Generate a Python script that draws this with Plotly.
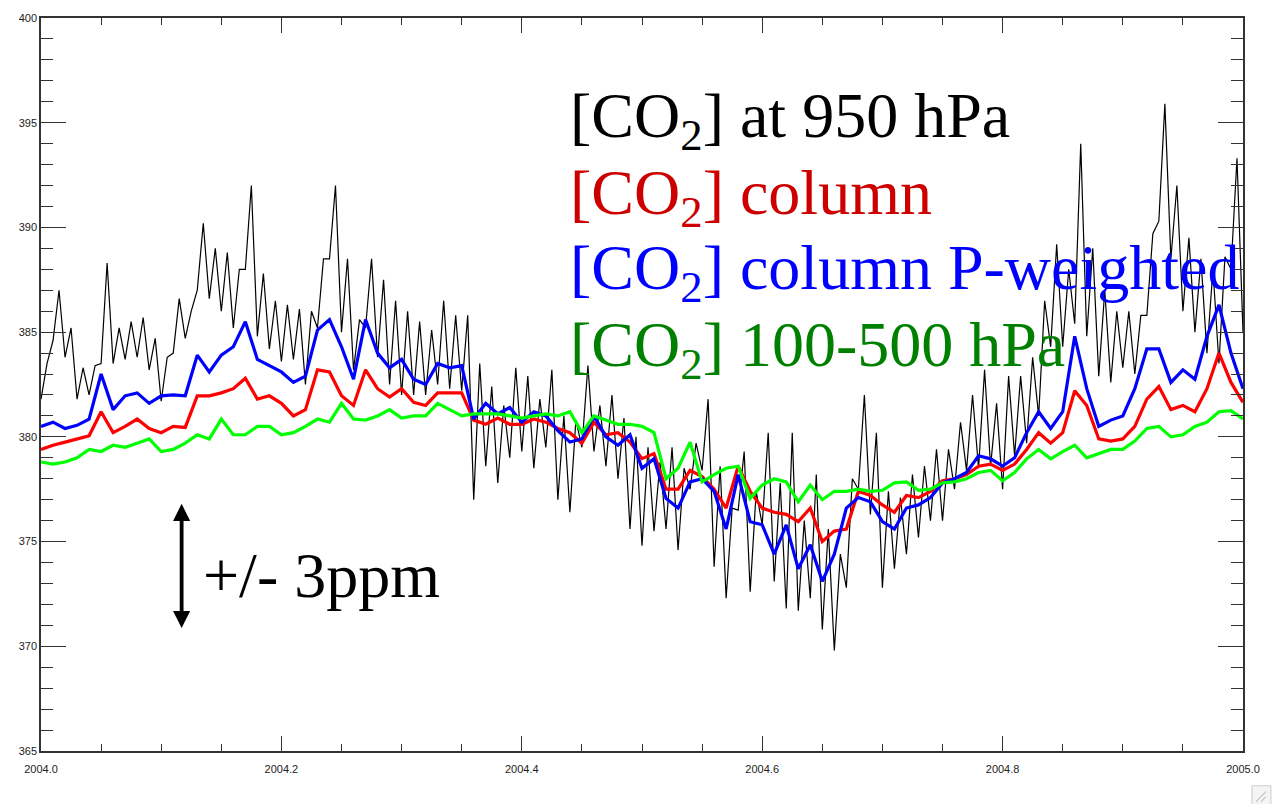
import numpy as np
import plotly.graph_objects as go

# time grid (fraction of year 2004), 0.01-year steps
years = np.round(2004 + np.arange(101) * 0.01, 3)

green_100_500 = [378.8, 378.7, 378.8, 379.0, 379.4, 379.3, 379.6, 379.5, 379.7, 379.9,
                 379.3, 379.4, 379.7, 380.1, 379.9, 380.85, 380.1, 380.1, 380.5, 380.5,
                 380.1, 380.2, 380.5, 380.85, 380.7, 381.6, 380.85, 380.8, 381.0, 381.3,
                 380.9, 381.0, 381.0, 381.6, 381.3, 381.0, 381.1, 381.1, 381.1, 381.0,
                 380.9, 381.0, 381.1, 381.0, 381.2, 380.2, 381.0, 380.8, 380.6, 380.6,
                 380.5, 380.2, 378.0, 378.5, 379.75, 377.85, 378.2, 378.5, 378.6, 377.06,
                 377.7, 378.0, 377.85, 376.9, 377.7, 377.0, 377.4, 377.4, 377.5, 377.4,
                 377.45, 377.8, 377.85, 377.45, 377.5, 377.8, 377.85, 378.0, 378.3, 378.4,
                 377.9, 378.3, 378.95, 379.4, 378.95, 379.3, 379.6, 379.0, 379.2, 379.4,
                 379.4, 379.8, 380.4, 380.5, 380.0, 380.1, 380.5, 380.7, 381.2, 381.25,
                 380.85]

red_column = [379.4, 379.6, 379.75, 379.9, 380.05, 381.2, 380.2, 380.5, 380.85, 380.4,
              380.2, 380.5, 380.45, 381.96, 381.96, 382.1, 382.3, 382.8, 381.8, 381.96,
              381.6, 381.0, 381.3, 383.2, 383.1, 381.96, 381.5, 383.2, 382.3, 381.9,
              382.3, 381.65, 381.5, 382.1, 382.1, 382.1, 380.8, 380.6, 380.9, 380.6,
              380.6, 380.85, 380.7, 380.4, 380.2, 379.7, 380.7, 380.1, 380.2, 379.75,
              378.96, 379.2, 377.5, 377.5, 378.4, 378.1, 377.5, 376.6, 378.6, 377.4,
              376.6, 376.4, 376.3, 375.95, 376.6, 375.0, 375.5, 375.6, 377.4, 377.2,
              376.75, 376.4, 377.2, 377.1, 377.4, 377.9, 378.0, 378.2, 378.6, 378.7,
              378.4, 378.7, 379.4, 380.2, 379.7, 380.2, 382.2, 381.5, 379.9, 379.8,
              379.9, 380.5, 381.8, 382.4, 381.3, 381.5, 381.2, 382.3, 384.0, 382.6,
              381.65]

blue_p_weighted = [380.5, 380.7, 380.4, 380.55, 380.85, 383.0, 381.3, 381.96, 382.1, 381.6,
                   381.96, 382.0, 381.96, 383.9, 383.1, 383.9, 384.3, 385.5, 383.7, 383.4,
                   383.1, 382.6, 382.9, 385.1, 385.6, 384.3, 382.75, 385.6, 384.0, 383.3,
                   383.7, 382.75, 382.5, 383.5, 383.3, 383.4, 380.85, 381.6, 381.1, 381.4,
                   380.7, 381.2, 381.0, 380.3, 379.75, 379.9, 381.0, 380.0, 379.6, 380.1,
                   378.5, 378.96, 377.06, 376.6, 377.85, 378.0, 377.4, 375.6, 378.2, 375.95,
                   375.8, 374.4, 375.8, 373.7, 374.85, 373.1, 374.4, 376.6, 377.1, 376.9,
                   375.95, 375.6, 376.6, 376.75, 377.1, 377.8, 378.0, 378.3, 379.1, 378.95,
                   378.6, 379.0, 380.2, 381.2, 380.4, 381.2, 384.8, 382.3, 380.5, 380.8,
                   381.0, 382.3, 384.2, 384.2, 382.6, 383.2, 382.75, 384.8, 386.3, 384.0,
                   382.3]

# 950 hPa series: upper and lower excursions read per 0.01-year step
black_hi = [383.5, 387.0, 385.2, 383.3, 383.4, 388.3, 385.2, 385.5, 385.7, 384.7,
            383.8, 386.6, 386.0, 390.2, 389.0, 388.8, 388.0, 392.0, 387.8, 386.5,
            386.3, 386.1, 386.0, 388.5, 392.0, 388.5, 385.6, 388.5, 387.5, 386.5,
            386.0, 385.5, 385.1, 386.5, 385.8, 385.8, 383.5, 382.4, 381.5, 383.3,
            382.9, 381.8, 383.2, 381.0, 380.8, 383.4, 381.5, 382.0, 380.9, 380.0,
            379.5, 378.8, 379.5, 378.5, 379.7, 381.8, 378.6, 376.6, 379.3, 377.4,
            380.2, 377.8, 380.2, 376.0, 378.2, 375.6, 374.4, 378.0, 382.0, 380.2,
            377.4, 377.1, 378.2, 378.6, 379.4, 379.4, 380.7, 382.0, 383.2, 381.6,
            382.9, 382.9, 383.8, 386.5, 389.2, 388.0, 394.0, 389.0, 387.0, 386.0,
            386.0, 385.8, 389.7, 395.9, 392.0, 389.5, 388.5, 388.0, 388.6, 393.3]
black_lo = [381.8, 384.6, 383.8, 381.8, 382.0, 383.5, 383.5, 383.7, 383.8, 383.2,
            381.7, 384.0, 384.7, 387.0, 386.6, 386.0, 385.2, 388.0, 384.8, 384.2,
            383.6, 383.7, 382.5, 385.2, 388.5, 385.0, 383.2, 385.2, 383.8, 382.5,
            382.0, 382.0, 382.0, 382.5, 382.3, 382.2, 377.0, 378.6, 377.8, 379.0,
            379.3, 378.5, 379.5, 377.0, 376.4, 379.5, 379.3, 378.6, 378.0, 375.6,
            374.8, 375.5, 375.6, 374.6, 377.5, 378.4, 373.8, 372.3, 376.5, 372.6,
            375.8, 373.1, 371.8, 371.7, 372.3, 370.8, 369.8, 372.8, 377.5, 376.3,
            372.8, 373.7, 374.4, 375.2, 376.0, 376.0, 377.5, 378.4, 378.5, 378.6,
            377.5, 379.1, 379.7, 381.0, 384.3, 384.3, 385.4, 384.8, 382.9, 382.6,
            383.3, 383.0, 385.8, 390.3, 388.5, 386.0, 385.0, 384.0, 383.5, 388.0,
            385.0]

labels = ["[CO<sub>2</sub>] at 950 hPa", "[CO<sub>2</sub>] column",
          "[CO<sub>2</sub>] column P-weighted", "[CO<sub>2</sub>] 100-500 hPa"]
label_colors = ["#000000", "#CC0000", "#0000FF", "#008000"]

# build the 950 hPa zigzag from the read envelopes
bt, bv = [], []
for k in range(len(black_lo)):
    bt.append(years[k]); bv.append(black_lo[k])
    if k < len(black_hi):
        bt.append(years[k] + 0.005); bv.append(black_hi[k])

fig = go.Figure()
fig.add_trace(go.Scatter(x=bt, y=bv, mode="lines", line=dict(color="#000000", width=1.2),
                         name=labels[0]))
fig.add_trace(go.Scatter(x=years, y=red_column, mode="lines", line=dict(color="#FF0000", width=3.2),
                         name=labels[1]))
fig.add_trace(go.Scatter(x=years, y=blue_p_weighted, mode="lines", line=dict(color="#0000FF", width=3.2),
                         name=labels[2]))
fig.add_trace(go.Scatter(x=years, y=green_100_500, mode="lines", line=dict(color="#00FF00", width=3.2),
                         name=labels[3]))

serif = "Liberation Serif, Times New Roman, serif"
label_y = [395.15, 391.45, 387.85, 384.2]
for txt, col, yy in zip(labels, label_colors, label_y):
    fig.add_annotation(x=2004.4386, y=yy, xref="x", yref="y", text=txt, showarrow=False,
                       xanchor="left", yanchor="middle",
                       font=dict(family=serif, size=64, color=col))

# +/- 3 ppm scale arrow
fig.add_annotation(x=2004.117, y=376.8, ax=2004.117, ay=370.8, xref="x", yref="y",
                   axref="x", ayref="y", text="", showarrow=True, arrowhead=2,
                   arrowside="end+start", arrowwidth=3.8, arrowsize=0.9, arrowcolor="#000000")
fig.add_annotation(x=2004.1335, y=373.4, xref="x", yref="y", text="+/- 3ppm", showarrow=False,
                   xanchor="left", yanchor="middle",
                   font=dict(family=serif, size=64, color="#000000"))

# window resize grip in the bottom-right corner
fig.add_shape(type="rect", xref="paper", yref="paper",
              x0=(1256 - 41) / 1206, x1=(1275 - 41) / 1206,
              y0=(751 - 806) / 738, y1=(751 - 786) / 738,
              line=dict(color="#CCCCCC", width=1), fillcolor="#F4F4F4")
for off in (0, 5):
    fig.add_shape(type="line", xref="paper", yref="paper",
                  x0=(1260 + off - 41) / 1206, y0=(751 - 802) / 738,
                  x1=(1270 - 41) / 1206, y1=(751 - 792 - off) / 738,
                  line=dict(color="#AAAAAA", width=1))

axis_font = dict(family="Liberation Sans, Arial, sans-serif", size=11, color="#222222")
fig.update_xaxes(range=[2004.0, 2005.0], tick0=2004.0, dtick=0.2, tickformat=".1f",
                 ticks="inside", ticklen=15, tickwidth=1, tickcolor="#333333",
                 ticklabelstandoff=7,
                 minor=dict(dtick=0.05, ticks="inside", ticklen=7, tickcolor="#333333", showgrid=False),
                 showline=True, linecolor="#333333", linewidth=1.5, mirror="ticks",
                 showgrid=False, zeroline=False, tickfont=axis_font)
fig.update_yaxes(range=[365, 400], tick0=365, dtick=5,
                 ticks="inside", ticklen=25, tickwidth=1, tickcolor="#333333",
                 minor=dict(dtick=1, ticks="inside", ticklen=12, tickcolor="#333333", showgrid=False),
                 showline=True, linecolor="#333333", linewidth=1.5, mirror="ticks",
                 showgrid=False, zeroline=False, tickfont=axis_font)

fig.update_layout(width=1272, height=804, autosize=False, showlegend=False,
                  paper_bgcolor="white", plot_bgcolor="white",
                  margin=dict(l=41, r=25, t=13, b=53))

fig.write_html("out.html", config={"displayModeBar": False},
               post_script="document.body.style.margin='0';")
